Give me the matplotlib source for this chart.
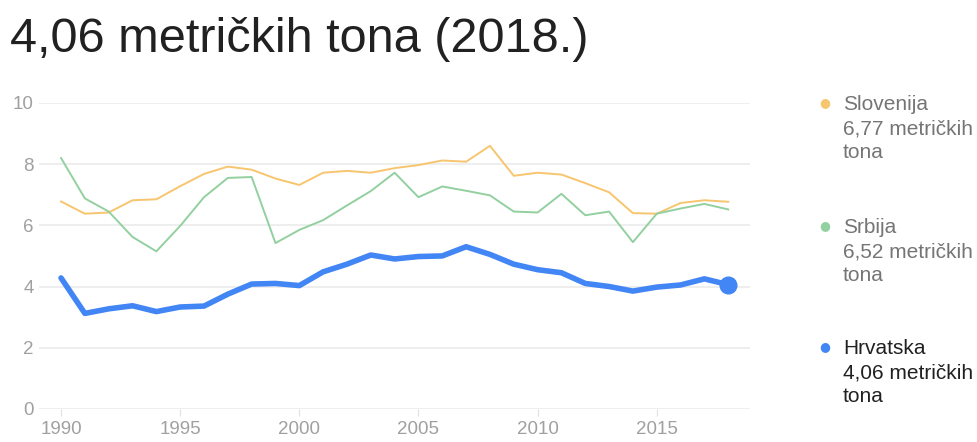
import matplotlib
matplotlib.use("Agg")
from matplotlib import pyplot as plt

years = list(range(1990, 2019))
slovenija = [6.78, 6.38, 6.42, 6.82, 6.85, 7.28, 7.68, 7.92, 7.82, 7.53,
             7.32, 7.72, 7.78, 7.72, 7.87, 7.97, 8.12, 8.08, 8.60, 7.62,
             7.72, 7.66, 7.38, 7.08, 6.40, 6.38, 6.73, 6.82, 6.77]
srbija = [8.20, 6.88, 6.45, 5.62, 5.15, 5.98, 6.92, 7.55, 7.58, 5.42,
          5.85, 6.17, 6.65, 7.12, 7.72, 6.92, 7.27, 7.13, 6.98, 6.45,
          6.42, 7.03, 6.33, 6.45, 5.45, 6.38, 6.55, 6.70, 6.52]
hrvatska = [4.28, 3.12, 3.27, 3.37, 3.18, 3.33, 3.36, 3.75, 4.08, 4.10,
            4.03, 4.48, 4.73, 5.03, 4.90, 4.98, 5.00, 5.30, 5.05, 4.73,
            4.55, 4.45, 4.10, 4.00, 3.85, 3.98, 4.05, 4.25, 4.06]
x_ticks = [1990, 1995, 2000, 2005, 2010, 2015]
y_ticks = [0, 2, 4, 6, 8, 10]
legend_names = ["Slovenija", "Srbija", "Hrvatska"]
legend_values = ["6,77 metričkih\ntona", "6,52 metričkih\ntona", "4,06 metričkih\ntona"]

plt.rcParams["font.family"] = ["Liberation Sans", "DejaVu Sans"]

c_slo = "#f8c56f"
c_srb = "#93d0a0"
c_hrv = "#4285f4"

fig = plt.figure(figsize=(9.78, 4.42), dpi=100)
ax = fig.add_axes([0.04, 0.075, 0.727, 0.692])

ax.plot(years, slovenija, color=c_slo, lw=1.4, clip_on=False)
ax.plot(years, srbija, color=c_srb, lw=1.4, clip_on=False)
ax.plot(years, hrvatska, color=c_hrv, lw=4, clip_on=False, solid_capstyle="round")
ax.plot(years[-1], hrvatska[-1], "o", color=c_hrv, ms=12, clip_on=False)

ax.set_xlim(1989.08, 2018.92)
ax.set_ylim(0, 10)
ax.set_xticks(x_ticks)
ax.set_yticks(y_ticks)
ax.grid(axis="y", color="#ebebeb", lw=1.2)
ax.set_axisbelow(True)
for s in ax.spines.values():
    s.set_visible(False)
ax.tick_params(axis="y", length=0, labelsize=13.5, labelcolor="#a0a0a0", pad=4)
ax.tick_params(axis="x", length=5, color="#e0e0e0", labelsize=13.5,
               labelcolor="#a0a0a0", pad=4)

fig.text(0.01, 1 - 52 / 442, "4,06 metričkih tona (2018.)", fontsize=35,
         color="#212121", va="baseline", ha="left")

colors = [c_slo, c_srb, c_hrv]
name_colors = ["#757575", "#757575", "#212121"]
tops = [103, 226, 347]
for name, val, c, nc, top in zip(legend_names, legend_values, colors, name_colors, tops):
    yf = 1 - top / 442
    fig.text(825 / 978, yf, "●", color=c, fontsize=9, ha="center", va="center",
             family="DejaVu Sans")
    fig.text(843 / 978, yf + 0.018, name + "\n" + val, color=nc, fontsize=15,
             ha="left", va="top", linespacing=1.34)

fig.savefig("out.png", dpi=100)
